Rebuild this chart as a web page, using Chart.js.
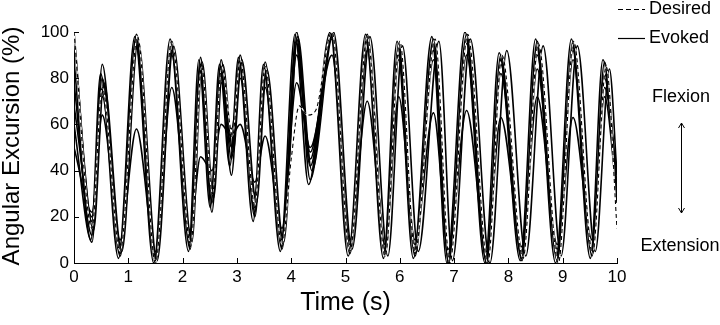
<!DOCTYPE html>
<html>
<head>
<meta charset="utf-8">
<script src="https://cdn.jsdelivr.net/npm/chart.js@4.4.1/dist/chart.umd.min.js"></script>
<style>
    html, body { margin: 0; padding: 0; background: #fff; }
    #wrap { width: 720px; height: 325px; }
</style>
</head>
<body>
<div id="wrap"><canvas id="chart" width="720" height="325"></canvas></div>
<script>
(function () {
    'use strict';

    var FONT = '"Liberation Sans", Arial, sans-serif';

    // desired trajectory (dashed)
    var desiredTimes = [0, 0.33, 0.52, 0.85, 1.17, 1.5, 1.8, 2.15, 2.35, 2.55, 2.72, 2.92, 3.06, 3.33, 3.52, 3.83, 4.0, 4.15, 4.3, 4.45, 4.75, 5.08, 5.4, 5.73, 6.0, 6.28, 6.65, 6.92, 7.25, 7.62, 7.88, 8.27, 8.55, 8.92, 9.2, 9.55, 9.8, 10];
    var desiredValues = [100, 15, 76, 5, 98, 0, 96, 8, 85, 30, 85, 55, 88, 25, 85, 8, 45, 68, 64, 66, 100, 5, 98, 3, 96, 5, 97, 0, 99, 0, 90, 2, 95, 0, 96, 4, 85, 15];

    // evoked trials (solid)
    var evokedTimes = [0, 0.33, 0.52, 0.85, 1.15, 1.5, 1.8, 2.14, 2.33, 2.54, 2.71, 2.9, 3.06, 3.33, 3.52, 3.83, 4.1, 4.35, 4.75, 5.08, 5.4, 5.73, 5.98, 6.28, 6.62, 6.9, 7.23, 7.6, 7.86, 8.25, 8.53, 8.9, 9.19, 9.54, 9.77, 10];
    var evoked1 = [100, 18, 80, 6, 99, 1, 96, 7, 89, 26, 88, 45, 90, 22, 87, 7, 100, 36, 100, 5, 99, 3, 95, 4, 97, 0, 99, 0, 90, 2, 96, 2, 96, 3, 87, 28];
    var evoked2 = [78, 12, 86, 4, 97, 2, 95, 10, 84, 22, 82, 38, 85, 20, 80, 10, 95, 42, 98, 6, 96, 5, 90, 6, 92, 2, 95, 1, 86, 3, 90, 4, 92, 5, 80, 30];
    var evoked3 = [68, 20, 72, 8, 93, 3, 92, 12, 80, 32, 78, 58, 80, 30, 76, 12, 90, 48, 97, 8, 92, 6, 88, 8, 88, 4, 90, 3, 82, 5, 84, 6, 88, 6, 76, 39];
    var evoked4 = [50, 22, 64, 10, 58, 5, 76, 14, 46, 40, 60, 55, 60, 35, 55, 15, 78, 50, 90, 10, 70, 8, 72, 10, 65, 6, 66, 5, 63, 7, 72, 8, 63, 10, 72, 28];
    var evoked5 = [60, 9, 74, 3, 95, 0, 90, 6, 86, 30, 84, 50, 86, 24, 82, 6, 97, 45, 99, 4, 97, 4, 93, 3, 95, 0, 97, 0, 88, 1, 94, 1, 94, 4, 82, 26];
    var lagTimes = [0, 0.36, 0.55, 0.88, 1.18, 1.53, 1.83, 2.17, 2.36, 2.57, 2.74, 2.93, 3.09, 3.36, 3.55, 3.86, 4.12, 4.38, 4.78, 5.12, 5.45, 5.78, 6.05, 6.34, 6.72, 6.97, 7.3, 7.66, 7.97, 8.32, 8.64, 8.97, 9.27, 9.6, 9.86, 10];
    var evoked6 = [98, 14, 78, 5, 96, 1, 94, 9, 87, 28, 86, 48, 88, 26, 84, 9, 98, 40, 100, 6, 98, 3, 94, 5, 96, 1, 97, 0, 92, 3, 94, 3, 94, 5, 84, 38];
    var earlyTimes = [0, 0.31, 0.49, 0.82, 1.12, 1.47, 1.77, 2.11, 2.3, 2.51, 2.68, 2.87, 3.03, 3.3, 3.49, 3.8, 4.07, 4.32, 4.72, 5.05, 5.37, 5.7, 5.95, 6.25, 6.59, 6.87, 7.2, 7.57, 7.83, 8.22, 8.5, 8.87, 9.16, 9.51, 9.74, 10];
    var evoked7 = [88, 10, 82, 2, 98, 0, 97, 5, 88, 24, 86, 42, 89, 18, 86, 5, 99, 34, 100, 3, 99, 2, 96, 2, 98, 0, 100, 0, 91, 1, 97, 0, 97, 2, 88, 34];

    var xTicks = [0, 1, 2, 3, 4, 5, 6, 7, 8, 9, 10];
    var yTicks = [0, 20, 40, 60, 80, 100];

    function pts(times, values) {
        var out = [];
        for (var i = 0; i < times.length; i++) {
            out.push({ x: times[i], y: values[i] });
        }
        return out;
    }

    function solid(values, times) {
        return {
            data: pts(times || evokedTimes, values),
            borderColor: '#000',
            borderWidth: 1.6,
            fill: false
        };
    }

    // inward tick marks, y title, legend and flexion/extension labels
    var decor = {
        id: 'decor',
        afterDraw: function (chart) {
            var ctx = chart.ctx;
            var xs = chart.scales.x;
            var ys = chart.scales.y;
            var area = chart.chartArea;
            var i;

            ctx.save();
            ctx.strokeStyle = '#000';
            ctx.lineWidth = 1;
            ctx.beginPath();
            for (i = 0; i < xTicks.length; i++) {
                var px = Math.round(xs.getPixelForValue(xTicks[i])) + 0.5;
                ctx.moveTo(px, area.bottom);
                ctx.lineTo(px, area.bottom - 5);
            }
            for (i = 0; i < yTicks.length; i++) {
                var py = Math.round(ys.getPixelForValue(yTicks[i])) + 0.5;
                ctx.moveTo(area.left, py);
                ctx.lineTo(area.left + 5, py);
            }
            ctx.stroke();

            ctx.fillStyle = '#000';
            ctx.textBaseline = 'middle';

            // y title
            ctx.save();
            ctx.translate(12, 146);
            ctx.rotate(-Math.PI / 2);
            ctx.textAlign = 'center';
            ctx.font = '24px ' + FONT;
            ctx.fillText('Angular Excursion (%)', 0, 0);
            ctx.restore();

            // legend
            ctx.font = '18px ' + FONT;
            ctx.textAlign = 'left';
            ctx.lineWidth = 1.2;
            ctx.setLineDash([5, 3]);
            ctx.beginPath();
            ctx.moveTo(618, 9.5);
            ctx.lineTo(645, 9.5);
            ctx.stroke();
            ctx.setLineDash([]);
            ctx.beginPath();
            ctx.moveTo(618, 38.5);
            ctx.lineTo(645, 38.5);
            ctx.stroke();
            ctx.fillText('Desired', 649, 9);
            ctx.fillText('Evoked', 649, 38);

            // flexion / extension
            ctx.textAlign = 'center';
            ctx.fillText('Flexion', 681, 97);
            ctx.fillText('Extension', 680, 246);
            ctx.lineWidth = 1;
            ctx.beginPath();
            ctx.moveTo(681.5, 123);
            ctx.lineTo(681.5, 213);
            ctx.moveTo(678.5, 128);
            ctx.lineTo(681.5, 123);
            ctx.lineTo(684.5, 128);
            ctx.moveTo(678.5, 208);
            ctx.lineTo(681.5, 213);
            ctx.lineTo(684.5, 208);
            ctx.stroke();
            ctx.restore();
        }
    };

    var tickFont = { family: FONT, size: 17 };

    new Chart(document.getElementById('chart'), {
        type: 'line',
        data: {
            datasets: [
                {
                    data: pts(desiredTimes, desiredValues),
                    borderColor: '#000',
                    borderWidth: 1.1,
                    borderDash: [4, 3],
                    fill: false
                },
                {
                    data: pts(desiredTimes, desiredValues),
                    borderColor: '#fff',
                    borderWidth: 1.3,
                    fill: false
                },
                solid(evoked1),
                solid(evoked2),
                solid(evoked3),
                solid(evoked4),
                solid(evoked5),
                solid(evoked6, lagTimes),
                solid(evoked7, earlyTimes)
            ]
        },
        options: {
            responsive: false,
            animation: false,
            layout: { padding: { top: 32, right: 103, left: 0, bottom: 0 } },
            elements: {
                point: { radius: 0 },
                line: { cubicInterpolationMode: 'monotone' }
            },
            plugins: {
                legend: { display: false },
                tooltip: { enabled: false }
            },
            scales: {
                x: {
                    type: 'linear',
                    min: 0,
                    max: 10,
                    afterBuildTicks: function (s) {
                        s.ticks = xTicks.map(function (v) { return { value: v }; });
                    },
                    afterFit: function (s) { s.height = 62; },
                    ticks: { color: '#000', font: tickFont, padding: 4, maxRotation: 0 },
                    grid: { display: true, drawOnChartArea: false, drawTicks: false },
                    border: { color: '#000', width: 1 },
                    title: {
                        display: true,
                        text: 'Time (s)',
                        color: '#000',
                        font: { family: FONT, size: 25 },
                        padding: { top: 0, bottom: 7 }
                    }
                },
                y: {
                    min: 0,
                    max: 100,
                    afterBuildTicks: function (s) {
                        s.ticks = yTicks.map(function (v) { return { value: v }; });
                    },
                    afterFit: function (s) { s.width = 74; },
                    ticks: { color: '#000', font: tickFont, padding: 5 },
                    grid: { display: true, drawOnChartArea: false, drawTicks: false },
                    border: { color: '#000', width: 1 }
                }
            }
        },
        plugins: [decor]
    });
})();
</script>
</body>
</html>
